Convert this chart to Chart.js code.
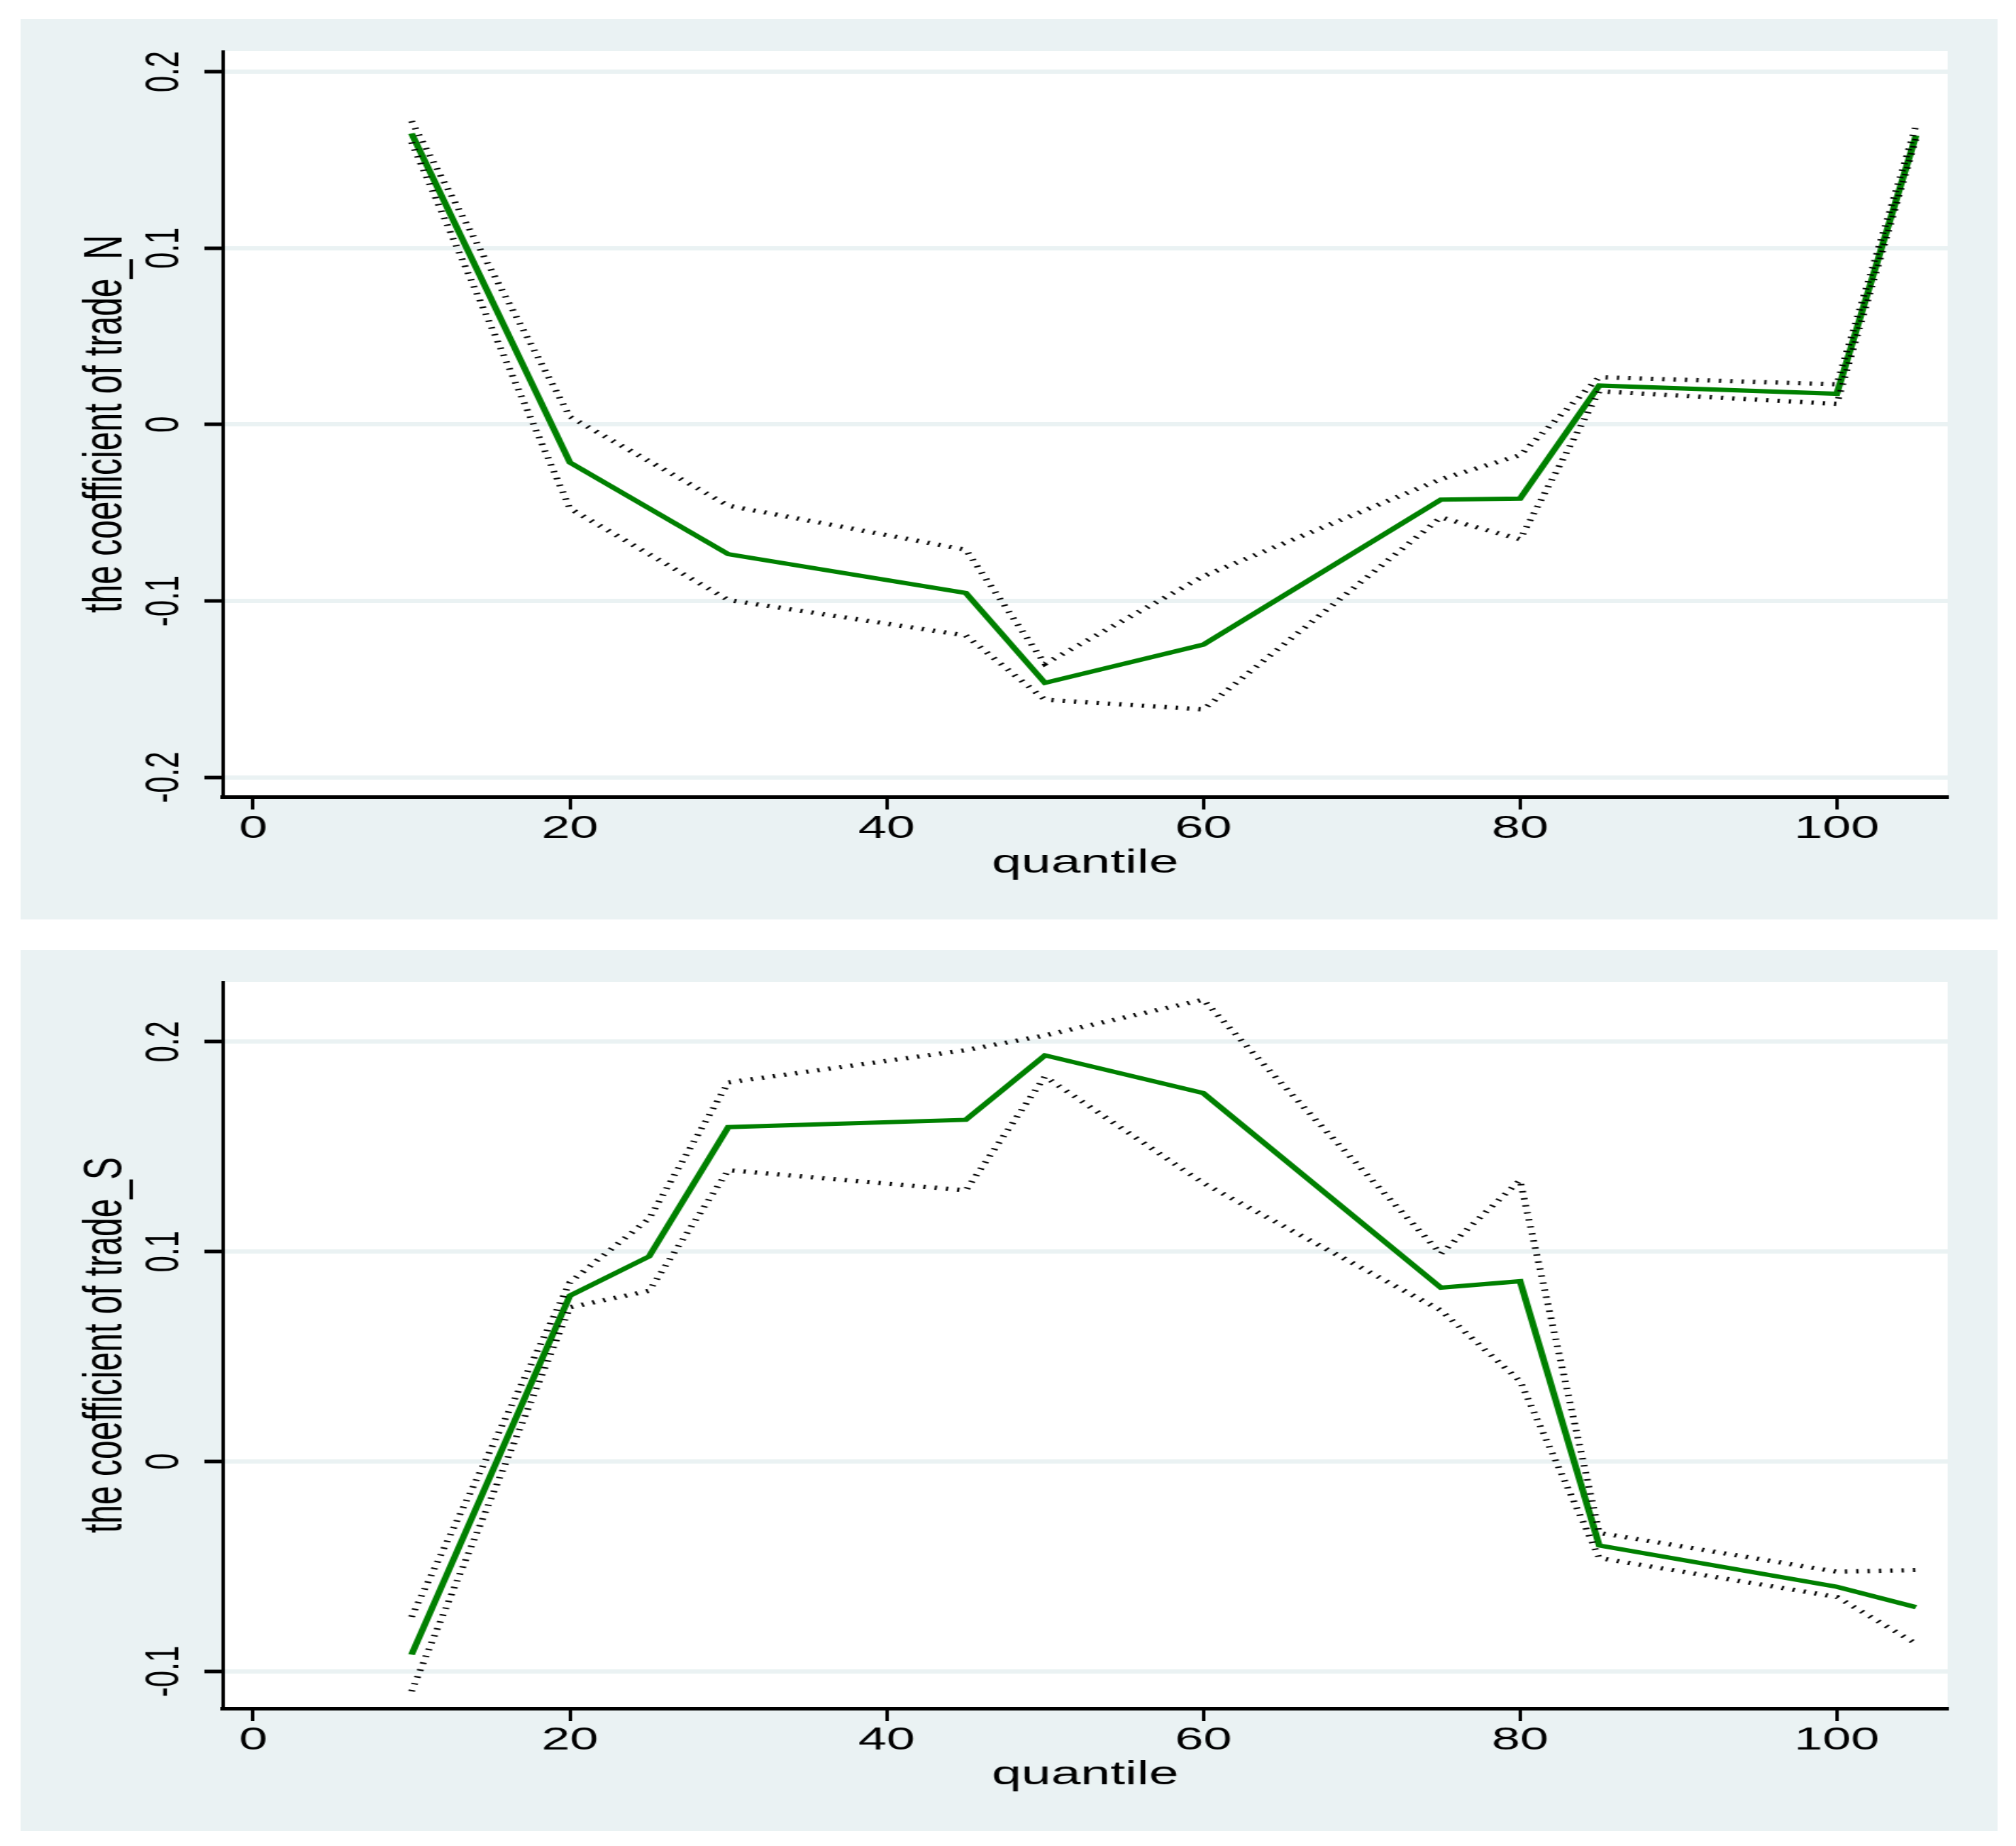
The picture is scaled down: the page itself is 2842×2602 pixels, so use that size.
<!DOCTYPE html>
<html>
<head>
<meta charset="utf-8">
<script src="https://cdn.jsdelivr.net/npm/chart.js@4.4.1/dist/chart.umd.min.js"></script>
<style>
  html, body { margin: 0; padding: 0; background: #ffffff; }
  body { width: 2842px; height: 2602px; position: relative; overflow: hidden; }
  .panel { position: absolute; left: 29px; width: 2787px; background: #eaf2f3; }
  .panel canvas { display: block; width: 2787px; }
</style>
</head>
<body>
<div class="panel" style="top:27px;height:1269px;">
  <canvas id="chartN" width="1742" height="1269" style="height:1269px;"></canvas>
</div>
<div class="panel" style="top:1339px;height:1242px;">
  <canvas id="chartS" width="1742" height="1242" style="height:1242px;"></canvas>
</div>
<script>
// quantiles and estimates
const quantN = [10, 20, 30, 45, 50, 60, 75, 80, 85, 100, 105];
const coefN  = [0.165, -0.0215, -0.0735, -0.0955, -0.1465, -0.1248, -0.0426, -0.042, 0.0221, 0.0174, 0.1638];
const upperN = [0.172, 0.0044, -0.046, -0.071, -0.1356, -0.086, -0.031, -0.0174, 0.0268, 0.0228, 0.1695];
const lowerN = [0.160, -0.0476, -0.0995, -0.1196, -0.156, -0.1615, -0.0527, -0.065, 0.0188, 0.0117, 0.162];

const quantS = [10, 20, 25, 30, 45, 50, 60, 75, 80, 85, 100, 105];
const coefS  = [-0.092, 0.079, 0.0977, 0.1593, 0.1628, 0.1935, 0.1755, 0.0828, 0.0859, -0.040, -0.0597, -0.0694];
const upperS = [-0.074, 0.0854, 0.1157, 0.1806, 0.196, 0.203, 0.220, 0.099, 0.134, -0.034, -0.0525, -0.0517];
const lowerS = [-0.1095, 0.0735, 0.0813, 0.1388, 0.1292, 0.1834, 0.1326, 0.072, 0.0383, -0.046, -0.0645, -0.0868];

const xTicks  = [0, 20, 40, 60, 80, 100];
const yTicksN = [-0.2, -0.1, 0, 0.1, 0.2];
const yTicksS = [-0.1, 0, 0.1, 0.2];

const FONT = "'Liberation Sans', Arial, Helvetica, sans-serif";
const GRID = '#eaf2f3';

// white plot region like the Stata plotregion
const plotRegion = {
    id: 'plotRegion',
    beforeDraw(chart) {
        const a = chart.chartArea;
        const ctx = chart.ctx;
        ctx.save();
        ctx.fillStyle = '#ffffff';
        ctx.fillRect(a.left, a.top, a.right - a.left, a.bottom - a.top);
        ctx.restore();
    }
};

function toPoints(xs, ys) {
    return xs.map((x, i) => ({ x: x, y: ys[i] }));
}

function dotted(data) {
    return {
        data: data,
        borderColor: '#000000',
        borderWidth: 6,
        borderDash: [2, 8],
        borderCapStyle: 'butt',
        pointRadius: 0,
        tension: 0,
        fill: false
    };
}

function makeChart(id, quant, coef, upper, lower, yMin, yMax, yTicks, yTitle) {
    const ctx = document.getElementById(id).getContext('2d');
    return new Chart(ctx, {
        type: 'line',
        data: {
            datasets: [
                dotted(toPoints(quant, upper)),
                dotted(toPoints(quant, lower)),
                {
                    data: toPoints(quant, coef),
                    borderColor: '#008000',
                    borderWidth: 6,
                    borderJoinStyle: 'miter',
                    pointRadius: 0,
                    tension: 0,
                    fill: false
                }
            ]
        },
        options: {
            responsive: false,
            animation: false,
            devicePixelRatio: 1,
            layout: { padding: { top: 45, right: 44, bottom: 0, left: 0 } },
            plugins: {
                legend: { display: false },
                tooltip: { enabled: false }
            },
            scales: {
                x: {
                    type: 'linear',
                    min: -1.93,
                    max: 107,
                    afterBuildTicks: (s) => { s.ticks = xTicks.map(v => ({ value: v })); },
                    afterFit: (s) => {
                        s.height = 173;
                        s.paddingLeft = 0;
                        s.paddingRight = 0;
                    },
                    grid: {
                        drawOnChartArea: false,
                        tickLength: 18,
                        tickWidth: 3,
                        tickColor: '#000000'
                    },
                    border: { display: true, color: '#000000', width: 5 },
                    ticks: {
                        autoSkip: false,
                        maxRotation: 0,
                        padding: 1,
                        color: '#000000',
                        font: { family: FONT, size: 45 },
                        callback: (v) => String(v)
                    },
                    title: {
                        display: true,
                        text: 'quantile',
                        color: '#000000',
                        font: { family: FONT, size: 47 },
                        padding: { top: 0, bottom: 51 }
                    }
                },
                y: {
                    type: 'linear',
                    min: yMin,
                    max: yMax,
                    afterBuildTicks: (s) => { s.ticks = yTicks.map(v => ({ value: v })); },
                    afterFit: (s) => {
                        s.width = 178;
                        s.paddingTop = 0;
                        s.paddingBottom = 0;
                    },
                    grid: {
                        color: GRID,
                        lineWidth: 6,
                        tickLength: 16,
                        tickWidth: 5,
                        tickColor: '#000000'
                    },
                    border: { display: true, color: '#000000', width: 3 },
                    ticks: {
                        autoSkip: false,
                        minRotation: 90,
                        maxRotation: 90,
                        crossAlign: 'center',
                        padding: -1.5,
                        color: '#000000',
                        font: { family: FONT, size: 42 },
                        callback: (v) => String(v)
                    },
                    title: {
                        display: true,
                        text: yTitle,
                        color: '#000000',
                        font: { family: FONT, size: 48 },
                        padding: { top: 47, bottom: 0 }
                    }
                }
            }
        },
        plugins: [plotRegion]
    });
}

makeChart('chartN', quantN, coefN, upperN, lowerN, -0.211, 0.2117, yTicksN, 'the coefficient of trade_N');
makeChart('chartS', quantS, coefS, upperS, lowerS, -0.1176, 0.2285, yTicksS, 'the coefficient of trade_S');
</script>
</body>
</html>
